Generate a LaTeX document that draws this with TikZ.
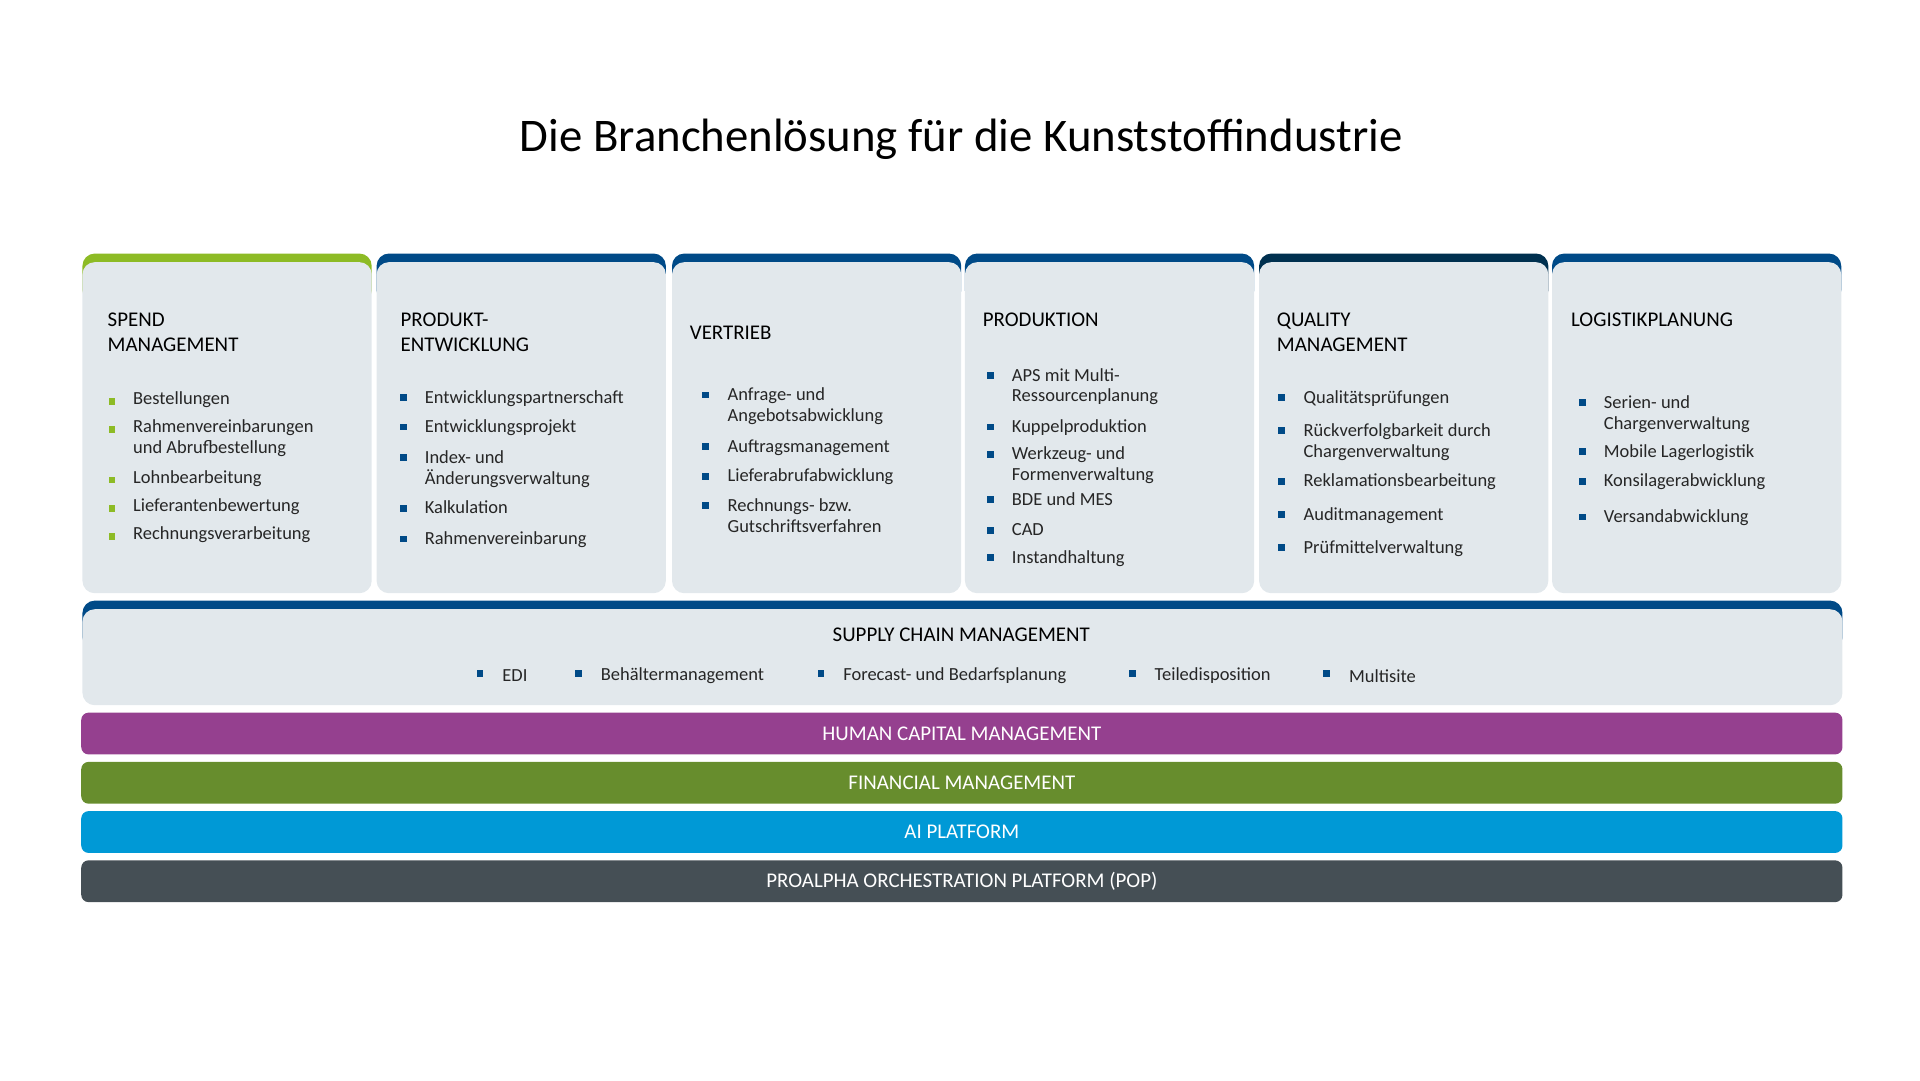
\documentclass[tikz,border=0pt]{standalone}
\usepackage{fontspec}
\setmainfont{Carlito}
\definecolor{pagreen}{HTML}{8DBB25}
\definecolor{pablue}{HTML}{004A87}
\definecolor{panavy}{HTML}{00304F}
\definecolor{pagray}{HTML}{E2E8EC}
\definecolor{papurple}{HTML}{95408F}
\definecolor{paolive}{HTML}{678D2D}
\definecolor{pacyan}{HTML}{0099D6}
\definecolor{pacoal}{HTML}{454F55}
\begin{document}
\begin{tikzpicture}[x=1pt, y=-1pt,
	head/.style  = {anchor=west, align=left, font=\fontsize{17}{20}\selectfont},
	item/.style  = {anchor=north west, align=left, inner sep=0pt, font=\fontsize{15}{17}\selectfont, text=black!85},
	sq/.style    = {fill, minimum size=5.5pt, inner sep=0pt},
	band/.style  = {rounded corners=6pt, minimum width=1431pt, minimum height=34pt, inner sep=0pt, text=white, font=\fontsize{17}{20}\selectfont},]
	
	\useasboundingbox (0,0) rectangle (1560,878);
	\node (title) at (781,113) {\fontsize{38}{44}\selectfont Die Branchenlösung für die Kunststoffindustrie};
	
	%% COLUMN BOXES
	\foreach \x/\c [count=\i] in {67/pagreen,306/pablue,546/pablue,784/pablue,1023/panavy,1261/pablue}{
		\fill[\c, rounded corners=10pt] (\x,206) rectangle ++(235,40);
		\fill[pagray, rounded corners=10pt] (\x,213) rectangle ++(235,269);
	}
	
	%% HEADERS
	\node[head] (hspend) at (84,270) {SPEND\\MANAGEMENT};
	\node[head] (hprod) at (322,270) {PRODUKT-\\ENTWICKLUNG};
	\node[head] (hvert) at (557,270) {VERTRIEB};
	\node[head] (hprodu) at (795,260) {PRODUKTION};
	\node[head] (hqual) at (1034,270) {QUALITY\\MANAGEMENT};
	\node[head] (hlog) at (1273,260) {LOGISTIKPLANUNG};
	
	%% BULLET ITEMS
	\foreach \y/\t in {326/Bestellungen, 349/{Rahmenvereinbarungen\\und Abrufbestellung}, 390/Lohnbearbeitung, 413/Lieferantenbewertung, 436/Rechnungsverarbeitung}{
		\node[sq, pagreen] at (91,\y) {};
		\node[item] at (108,\y-8) {\t};
	}
	\foreach \y/\t in {325/Entwicklungspartnerschaft, 349/Entwicklungsprojekt, 374/{Index- und\\Änderungsverwaltung}, 415/Kalkulation, 440/Rahmenvereinbarung}{
		\node[sq, pablue] at (328,\y-2) {};
		\node[item] at (345,\y-8) {\t};
	}
	\foreach \y/\t in {323/{Anfrage- und\\Angebotsabwicklung}, 365/Auftragsmanagement, 389/Lieferabrufabwicklung, 413/{Rechnungs- bzw.\\Gutschriftsverfahren}}{
		\node[sq, pablue] at (573,\y-2) {};
		\node[item] at (591,\y-8) {\t};
	}
	\foreach \y/\t in {307/{APS mit Multi-\\Ressourcenplanung}, 349/Kuppelproduktion, 371/{Werkzeug- und\\Formenverwaltung}, 408/BDE und MES, 433/CAD, 455/Instandhaltung}{
		\node[sq, pablue] at (805,\y-2) {};
		\node[item] at (822,\y-8) {\t};
	}
	\foreach \y/\t in {325/Qualitätsprüfungen, 352/{Rückverfolgbarkeit durch\\Chargenverwaltung}, 393/Reklamationsbearbeitung, 420/Auditmanagement, 447/Prüfmittelverwaltung}{
		\node[sq, pablue] at (1041,\y-2) {};
		\node[item] at (1059,\y-8) {\t};
	}
	\foreach \y/\t in {329/{Serien- und\\Chargenverwaltung}, 369/Mobile Lagerlogistik, 393/Konsilagerabwicklung, 422/Versandabwicklung}{
		\node[sq, pablue] at (1286,\y-2) {};
		\node[item] at (1303,\y-8) {\t};
	}
	
	%% SUPPLY CHAIN MANAGEMENT
	\fill[pablue, rounded corners=10pt] (67,488) rectangle ++(1430,40);
	\fill[pagray, rounded corners=10pt] (67,495) rectangle ++(1430,78);
	\node (scm) at (781,516) {\fontsize{17}{20}\selectfont SUPPLY CHAIN MANAGEMENT};
	\foreach \x/\t in {390/EDI, 470/Behältermanagement, 667/Forecast- und Bedarfsplanung, 920/Teiledisposition, 1078/Multisite}{
		\node[sq, pablue] at (\x,547) {};
		\node[item, anchor=west] at (\x+18,549) {\t};
	}
	
	%% BANDS
	\node[band, fill=papurple] (hcm) at (781.5,596) {HUMAN CAPITAL MANAGEMENT};
	\node[band, fill=paolive] (fin) at (781.5,636) {FINANCIAL MANAGEMENT};
	\node[band, fill=pacyan] (ai) at (781.5,676) {AI PLATFORM};
	\node[band, fill=pacoal] (pop) at (781.5,716) {PROALPHA ORCHESTRATION PLATFORM (POP)};
\end{tikzpicture}
\end{document}
